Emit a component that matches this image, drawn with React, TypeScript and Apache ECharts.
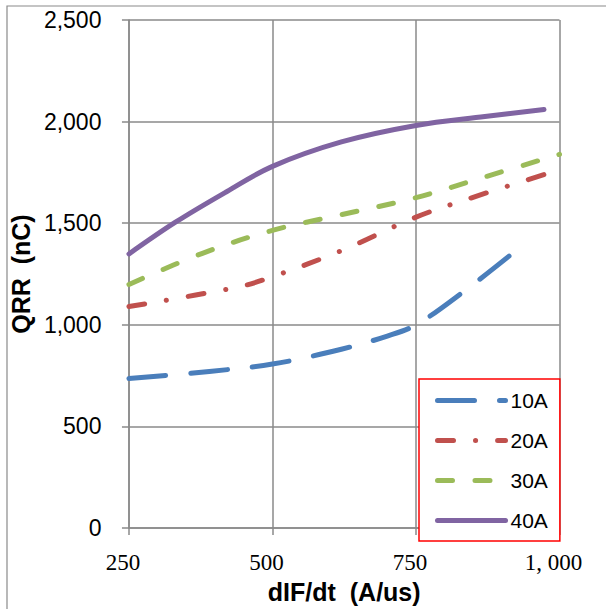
import React, { useEffect, useRef } from "react";
import * as echarts from "echarts";

const seriesNames = ["10A", "20A", "30A", "40A"];
const seriesColors = ["#4a7ebb", "#c0504d", "#9bbb59", "#8064a2"];
const seriesDash: (number[] | "solid")[] = [[37, 25], [16, 22, 0.1, 22], [15, 22.5], "solid"];

const x10 = [250, 390, 500, 620, 700, 750, 834, 923];
const y10 = [736, 771, 807, 880, 945, 1000, 1166, 1363];
const x20 = [250, 441, 500, 620, 750, 852, 1000];
const y20 = [1090, 1187, 1237, 1365, 1530, 1630, 1763];
const x30 = [250, 378, 500, 620, 750, 870, 1000];
const y30 = [1199, 1352, 1465, 1542, 1626, 1728, 1839];
const x40 = [250, 331, 420, 500, 620, 750, 870, 973];
const y40 = [1349, 1505, 1655, 1780, 1900, 1981, 2025, 2060];

const xTickValues = [250, 500, 750, 1000];
const xTickLabels = ["250", "500", "750", "1, 000"];
const yTickValues = [0, 500, 1000, 1500, 2000, 2500];
const yTickLabels = ["0", "500", "1,000", "1,500", "2,000", "2,500"];

const xName = "dIF/dt  (A/us)";
const yName = "QRR  (nC)";

const allX = [x10, x20, x30, x40];
const allY = [y10, y20, y30, y40];

export default function App() {
  const ref = useRef<HTMLDivElement>(null);
  useEffect(() => {
    document.body.style.margin = "0";
    if (!ref.current) return;
    const chart = echarts.init(ref.current, undefined, { renderer: "svg" });
    const grey = "#8a8a8a";
    const series = seriesNames.map((name, i) => ({
      name,
      type: "line",
      smooth: 0.35,
      symbol: "none",
      data: allX[i].map((x, j) => [x, allY[i][j]]),
      lineStyle: {
        color: seriesColors[i],
        width: 5,
        type: seriesDash[i],
        cap: "round",
        join: "round",
      },
      itemStyle: { color: seriesColors[i] },
      z: 3,
    }));
    chart.setOption({
      animation: false,
      backgroundColor: "#ffffff",
      grid: { left: 126.5, top: 20, right: 46.5, bottom: 73 },
      xAxis: {
        type: "value",
        min: 250,
        max: 1000,
        interval: 250,
        name: xName,
        nameLocation: "middle",
        nameGap: 41,
        nameTextStyle: {
          fontFamily: "Arial, 'Liberation Sans'",
          fontWeight: "bold",
          fontSize: 25,
          color: "#000",
        },
        axisLine: { show: true, lineStyle: { color: grey, width: 1.5 } },
        axisTick: { show: true, length: 7, lineStyle: { color: grey, width: 1.5 } },
        splitLine: { show: true, lineStyle: { color: grey, width: 1.5 } },
        axisLabel: {
          margin: 23,
          showMinLabel: true,
          showMaxLabel: true,
          fontFamily: "'Liberation Serif', serif",
          fontSize: 23,
          color: "#000",
          padding: [0, 12, 0, 0],
          formatter: (v: number) => {
            const k = xTickValues.indexOf(v);
            return k >= 0 ? xTickLabels[k] : "";
          },
        },
      },
      yAxis: {
        type: "value",
        min: 0,
        max: 2500,
        interval: 500,
        name: yName,
        nameLocation: "middle",
        nameGap: 84,
        nameRotate: 90,
        nameTextStyle: {
          fontFamily: "Arial, 'Liberation Sans'",
          fontWeight: "bold",
          fontSize: 25,
          color: "#000",
        },
        axisLine: { show: true, lineStyle: { color: grey, width: 1.5 } },
        axisTick: { show: true, length: 7, lineStyle: { color: grey, width: 1.5 } },
        splitLine: { show: true, lineStyle: { color: grey, width: 1.5 } },
        axisLabel: {
          margin: 27.5,
          fontFamily: "Arial, 'Liberation Sans'",
          fontSize: 23,
          color: "#000",
          formatter: (v: number) => {
            const k = yTickValues.indexOf(v);
            return k >= 0 ? yTickLabels[k] : "";
          },
        },
      },
      legend: {
        orient: "vertical",
        left: 419,
        top: 379,
        padding: [11, 12, 10, 16],
        itemGap: 19,
        itemWidth: 68,
        itemHeight: 14,
        borderColor: "#ff0000",
        borderWidth: 1.5,
        backgroundColor: "#ffffff",
        itemStyle: { opacity: 0 },
        textStyle: {
          fontFamily: "Arial, 'Liberation Sans'",
          fontSize: 21,
          lineHeight: 20,
          color: "#000",
        },
        data: seriesNames.map((name, i) => ({
          name,
          lineStyle: {
            color: seriesColors[i],
            width: 5,
            type: seriesDash[i],
            cap: "round",
          },
        })),
      },
      graphic: [
        {
          type: "rect",
          shape: { x: 7, y: 6, width: 700, height: 700 },
          style: { fill: "none", stroke: grey, lineWidth: 1.2 },
          silent: true,
        },
      ],
      series,
    });
    return () => chart.dispose();
  }, []);
  return <div ref={ref} style={{ width: 606, height: 609 }} />;
}
